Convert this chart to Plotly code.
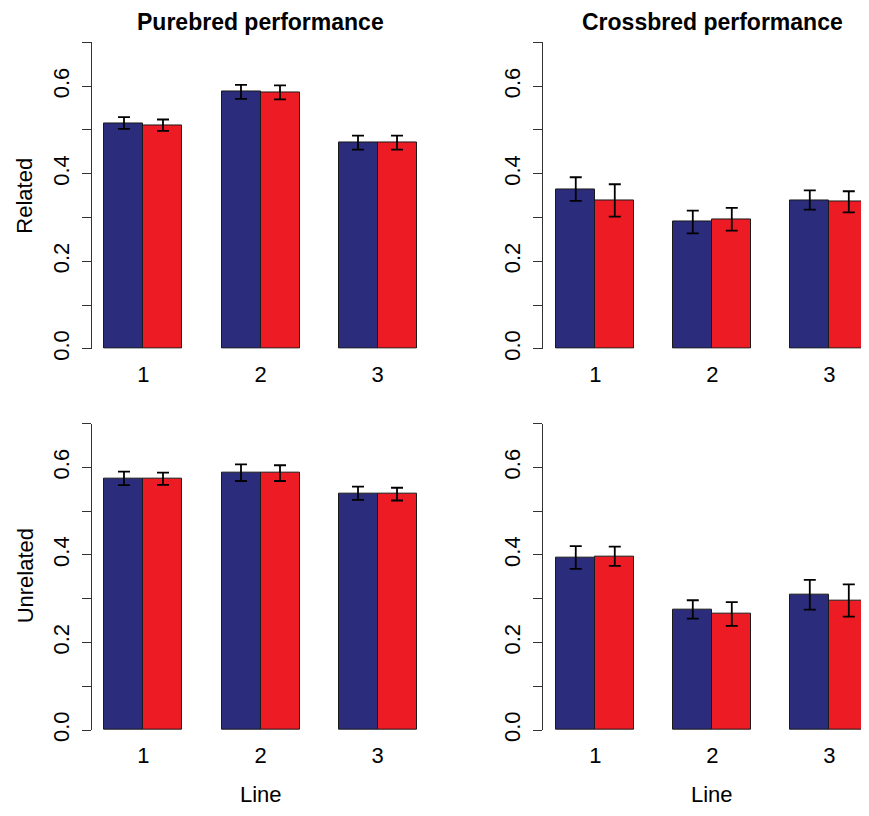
import plotly.graph_objects as go

# page geometry (browser body has an 8px margin on each side)
OFF = 8
W, H = 853, 800

lines = ["1", "2", "3"]

# Purebred performance, related
pure_rel_blue = [0.516, 0.587, 0.471]
pure_rel_red = [0.511, 0.586, 0.471]
pure_rel_blue_err = [0.0135, 0.016, 0.016]
pure_rel_red_err = [0.013, 0.016, 0.016]

# Crossbred performance, related
cross_rel_blue = [0.365, 0.290, 0.340]
cross_rel_red = [0.339, 0.296, 0.336]
cross_rel_blue_err = [0.027, 0.026, 0.022]
cross_rel_red_err = [0.037, 0.026, 0.024]

# Purebred performance, unrelated
pure_unrel_blue = [0.575, 0.588, 0.541]
pure_unrel_red = [0.574, 0.587, 0.539]
pure_unrel_blue_err = [0.0155, 0.019, 0.015]
pure_unrel_red_err = [0.014, 0.018, 0.0146]

# Crossbred performance, unrelated
cross_unrel_blue = [0.394, 0.2755, 0.309]
cross_unrel_red = [0.397, 0.265, 0.296]
cross_unrel_blue_err = [0.026, 0.021, 0.034]
cross_unrel_red_err = [0.022, 0.027, 0.037]

y_ticks = [0.0, 0.1, 0.2, 0.3, 0.4, 0.5, 0.6, 0.7]
y_ticktext = ["0.0", "", "0.2", "", "0.4", "", "0.6", ""]

BLUE = "#2B2D7C"
RED = "#ED1C24"
FONT = "Liberation Sans, Arial, sans-serif"

centers = [2 + 3 * i for i in range(len(lines))]
blue_x = [c - 0.5 for c in centers]
red_x = [c + 0.5 for c in centers]

panels = [
    ("x", "y", pure_rel_blue, pure_rel_red, pure_rel_blue_err, pure_rel_red_err),
    ("x2", "y2", cross_rel_blue, cross_rel_red, cross_rel_blue_err, cross_rel_red_err),
    ("x3", "y3", pure_unrel_blue, pure_unrel_red, pure_unrel_blue_err, pure_unrel_red_err),
    ("x4", "y4", cross_unrel_blue, cross_unrel_red, cross_unrel_blue_err, cross_unrel_red_err),
]

fig = go.Figure()
for xa, ya, b, r, be, re_ in panels:
    for xs, vals, errs, col in ((blue_x, b, be, BLUE), (red_x, r, re_, RED)):
        fig.add_trace(go.Bar(
            x=xs, y=vals, width=1.0, xaxis=xa, yaxis=ya,
            marker=dict(color=col, line=dict(color="#1a1a1a", width=1)),
            error_y=dict(type="data", array=errs, visible=True,
                         color="black", thickness=1.8, width=6),
            showlegend=False, hoverinfo="y",
        ))

def px_x(p):
    return (p - OFF) / W

def px_y(p):
    return 1 - (p - OFF) / H

left_dom = [px_x(92), px_x(429)]
right_dom = [px_x(543), 1.0]
top_dom = [px_y(354), px_y(43)]
bot_dom = [px_y(741), px_y(430)]

UNIT = (429 - 92) / 8.64  # pixels per bar width

tickfont = dict(family=FONT, size=22, color="black")

def xaxis(dom, anchor, rng):
    return dict(domain=dom, anchor=anchor, range=rng,
                tickvals=centers, ticktext=lines, ticks="",
                showline=False, showgrid=False, zeroline=False,
                tickfont=tickfont, ticklabelstandoff=10)

def yaxis(dom, anchor):
    return dict(domain=dom, anchor=anchor, range=[0, 0.7],
                tickvals=y_ticks, ticktext=y_ticktext, tickangle=-90,
                ticks="outside", ticklen=9, tickwidth=1, tickcolor="#333",
                showline=True, linecolor="#333", linewidth=1,
                showgrid=False, zeroline=False, tickfont=tickfont,
                ticklabelstandoff=4)

left_rng = [0.68, 9.32]
right_rng = [0.66, 0.66 + (OFF + W - 543) / UNIT]

fig.update_layout(
    width=W, height=H,
    margin=dict(l=0, r=0, t=0, b=0),
    paper_bgcolor="white", plot_bgcolor="white",
    bargap=0,
    xaxis=xaxis(left_dom, "y", left_rng),
    yaxis=yaxis(top_dom, "x"),
    xaxis2=xaxis(right_dom, "y2", right_rng),
    yaxis2=yaxis(top_dom, "x2"),
    xaxis3=xaxis(left_dom, "y3", left_rng),
    yaxis3=yaxis(bot_dom, "x3"),
    xaxis4=xaxis(right_dom, "y4", right_rng),
    yaxis4=yaxis(bot_dom, "x4"),
    font=dict(family=FONT, color="black"),
)

ann = [
    dict(text="<b>Purebred performance</b>", x=px_x(260.5), y=px_y(22), size=23, angle=0),
    dict(text="<b>Crossbred performance</b>", x=px_x(712), y=px_y(22), size=23, angle=0),
    dict(text="Related", x=px_x(25), y=px_y(198.5), size=22, angle=-90),
    dict(text="Unrelated", x=px_x(25), y=px_y(585), size=22, angle=-90),
    dict(text="Line", x=px_x(260.5), y=px_y(806), size=22, angle=0),
    dict(text="Line", x=px_x(712), y=px_y(806), size=22, angle=0),
]
for a in ann:
    fig.add_annotation(text=a["text"], x=a["x"], y=a["y"], xref="paper", yref="paper",
                       showarrow=False, textangle=a["angle"], xanchor="center", yanchor="middle",
                       font=dict(family=FONT, size=a["size"], color="black"))

fig.write_html("out.html")
